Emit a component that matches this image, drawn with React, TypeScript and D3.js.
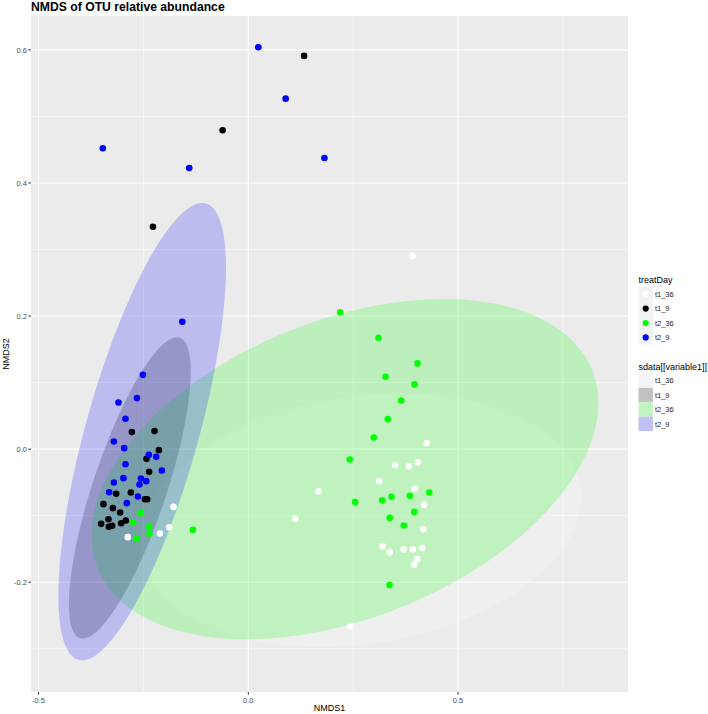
import React, { useEffect, useRef } from 'react';
import * as d3 from 'd3';

const groups = ['t1_36', 't1_9', 't2_36', 't2_9'];
const groupColors = ['#ffffff', '#000000', '#00ff00', '#0000ff'];

// NMDS1, NMDS2 per sample
const t1_36: [number, number][] = [
  [0.3914, 0.2902], [0.4255, 0.009], [0.3501, -0.0241], [0.3826, -0.0256], [0.4041, -0.02],
  [0.3119, -0.0481], [0.1671, -0.0632], [0.3969, -0.0591], [0.4193, -0.0838], [0.1122, -0.1048],
  [0.417, -0.1203], [0.3198, -0.1459], [0.3372, -0.1549], [0.3699, -0.1508], [0.3921, -0.1508],
  [0.4146, -0.1484], [0.4026, -0.165], [0.3955, -0.1734], [0.2442, -0.2657], [-0.1783, -0.0868],
  [-0.1885, -0.1173], [-0.2107, -0.1268], [-0.2871, -0.1323],
];
const t1_9: [number, number][] = [
  [0.1329, 0.591], [-0.0613, 0.4792], [-0.2274, 0.3343], [-0.2776, 0.0256], [-0.2236, 0.0271],
  [-0.2131, -0.0015], [-0.2427, -0.0146], [-0.2363, -0.0341], [-0.315, -0.0672], [-0.28, -0.0651],
  [-0.2465, -0.0752], [-0.2411, -0.0752], [-0.3453, -0.0827], [-0.3229, -0.0887], [-0.3055, -0.0952],
  [-0.3334, -0.1053], [-0.2919, -0.1072], [-0.3031, -0.1113], [-0.3508, -0.1123], [-0.3325, -0.1168],
  [-0.3246, -0.1153],
];
const t2_36: [number, number][] = [
  [0.2189, 0.2056], [0.3103, 0.1674], [0.4033, 0.1289], [0.327, 0.1087], [0.3962, 0.0973],
  [0.3644, 0.0732], [0.3325, 0.0451], [0.299, 0.0176], [0.2418, -0.0155], [0.4313, -0.0651],
  [0.2547, -0.0797], [0.3191, -0.0767], [0.3413, -0.0717], [0.385, -0.0702], [0.3955, -0.0943],
  [0.3372, -0.1033], [0.3706, -0.1147], [0.3365, -0.2041], [-0.132, -0.1214], [-0.2561, -0.0958],
  [-0.2745, -0.1098], [-0.2363, -0.1168], [-0.2356, -0.1268], [-0.2666, -0.1343],
];
const t2_9: [number, number][] = [
  [0.0239, 0.604], [0.089, 0.5268], [0.1814, 0.4376], [-0.3468, 0.4522], [-0.1408, 0.4226],
  [-0.1575, 0.1914], [-0.2513, 0.1117], [-0.2656, 0.0767], [-0.3095, 0.0702], [-0.2928, 0.0456],
  [-0.3205, 0.0116], [-0.2959, 0.0015], [-0.237, -0.0086], [-0.2196, -0.0116], [-0.2928, -0.0226],
  [-0.206, -0.032], [-0.2976, -0.0436], [-0.2561, -0.0441], [-0.3205, -0.0501], [-0.2434, -0.0481],
  [-0.2594, -0.0531], [-0.3317, -0.0647], [-0.2632, -0.0711], [-0.2895, -0.0812],
];
const samples = [t1_36, t1_9, t2_36, t2_9];

// 95% ellipses: centre and the two half-axis vectors, in NMDS units
const ellipseCentre = [[0.2673, -0.1068], [-0.2825, -0.0583], [0.2303, -0.0301], [-0.253, 0.0263]];
const ellipseAxisA = [[0.5241, 0.0505], [0.1189, 0.2256], [0.5895, 0.1486], [0.152, 0.3429]];
const ellipseAxisB = [[0.0446, -0.1842], [0.0833, -0.0174], [0.132, -0.208], [0.1295, -0.0228]];

const xTicks = [-0.5, 0, 0.5];
const xMinor = [-0.25, 0.25, 0.75];
const yTicks = [-0.2, 0, 0.2, 0.4, 0.6];
const yMinor = [-0.3, -0.1, 0.1, 0.3, 0.5];

const W = 708;
const H = 714;
const font = 'Liberation Sans, Arial, sans-serif';

const App = () => {
  const svgRef = useRef<SVGSVGElement>(null);

  useEffect(() => {
    const margin = { top: 16, right: 80, bottom: 22, left: 31 };
    const svg = d3.select(svgRef.current);
    svg.selectAll('*').remove();

    const x = d3.scaleLinear().domain([-0.518, 0.905]).range([margin.left, W - margin.right]);
    const y = d3.scaleLinear().domain([-0.365, 0.651]).range([H - margin.bottom, margin.top]);
    const fmt = (v: number) => v.toFixed(1);

    svg.append('rect').attr('width', W).attr('height', H).attr('fill', '#fff');

    const px0 = x.range()[0], px1 = x.range()[1];
    const py0 = y.range()[1], py1 = y.range()[0];

    svg.append('rect')
      .attr('x', px0).attr('y', py0)
      .attr('width', px1 - px0).attr('height', py1 - py0)
      .attr('fill', '#ebebeb');

    svg.append('clipPath').attr('id', 'panel')
      .append('rect')
      .attr('x', px0).attr('y', py0)
      .attr('width', px1 - px0).attr('height', py1 - py0);

    const grid = svg.append('g').attr('stroke', '#fff');
    grid.selectAll('.vminor').data(xMinor).enter().append('line')
      .attr('x1', d => x(d)).attr('x2', d => x(d)).attr('y1', py0).attr('y2', py1)
      .attr('stroke-width', 0.55);
    grid.selectAll('.hminor').data(yMinor).enter().append('line')
      .attr('y1', d => y(d)).attr('y2', d => y(d)).attr('x1', px0).attr('x2', px1)
      .attr('stroke-width', 0.55);
    grid.selectAll('.vmajor').data(xTicks).enter().append('line')
      .attr('x1', d => x(d)).attr('x2', d => x(d)).attr('y1', py0).attr('y2', py1)
      .attr('stroke-width', 1.1);
    grid.selectAll('.hmajor').data(yTicks).enter().append('line')
      .attr('y1', d => y(d)).attr('y2', d => y(d)).attr('x1', px0).attr('x2', px1)
      .attr('stroke-width', 1.1);

    const plot = svg.append('g').attr('clip-path', 'url(#panel)');

    const line = d3.line<[number, number]>()
      .x(d => x(d[0])).y(d => y(d[1]))
      .curve(d3.curveLinearClosed);

    groups.forEach((g, i) => {
      const [cx, cy] = ellipseCentre[i];
      const [ax, ay] = ellipseAxisA[i];
      const [bx, by] = ellipseAxisB[i];
      const pts = d3.range(0, 360, 2).map(deg => {
        const t = (deg * Math.PI) / 180;
        return [cx + ax * Math.cos(t) + bx * Math.sin(t), cy + ay * Math.cos(t) + by * Math.sin(t)] as [number, number];
      });
      plot.append('path')
        .attr('d', line(pts))
        .attr('fill', groupColors[i])
        .attr('fill-opacity', 0.2)
        .attr('stroke', 'none');
    });

    groups.forEach((g, i) => {
      plot.selectAll('.pt-' + g)
        .data(samples[i])
        .enter()
        .append('circle')
        .attr('cx', d => x(d[0]))
        .attr('cy', d => y(d[1]))
        .attr('r', 3.3)
        .attr('fill', groupColors[i]);
    });

    // axes
    const axes = svg.append('g').attr('font-family', font);
    axes.selectAll('.xt').data(xTicks).enter().append('line')
      .attr('x1', d => x(d)).attr('x2', d => x(d)).attr('y1', py1).attr('y2', py1 + 2.7)
      .attr('stroke', '#333').attr('stroke-width', 1);
    axes.selectAll('.xl').data(xTicks).enter().append('text')
      .attr('x', d => x(d)).attr('y', py1 + 10.5)
      .attr('text-anchor', 'middle').attr('font-size', 7.5).attr('fill', '#4d4d4d')
      .text(d => fmt(d));
    axes.selectAll('.yt').data(yTicks).enter().append('line')
      .attr('y1', d => y(d)).attr('y2', d => y(d)).attr('x1', px0 - 2.7).attr('x2', px0)
      .attr('stroke', '#333').attr('stroke-width', 1);
    axes.selectAll('.yl').data(yTicks).enter().append('text')
      .attr('x', px0 - 4).attr('y', d => y(d) + 2.7)
      .attr('text-anchor', 'end').attr('font-size', 7.5).attr('fill', '#4d4d4d')
      .text(d => fmt(d));

    axes.append('text')
      .attr('x', (px0 + px1) / 2).attr('y', H - 3)
      .attr('text-anchor', 'middle').attr('font-size', 9).attr('fill', '#000')
      .text('NMDS1');
    axes.append('text')
      .attr('transform', `translate(9,${(py0 + py1) / 2}) rotate(-90)`)
      .attr('text-anchor', 'middle').attr('font-size', 9).attr('fill', '#000')
      .text('NMDS2');

    svg.append('text')
      .attr('x', px0).attr('y', 11)
      .attr('font-family', font).attr('font-weight', 'bold').attr('font-size', 12.2)
      .attr('fill', '#000')
      .text('NMDS of OTU relative abundance');

    // legends
    const key = 14.4;
    const lx = 638.5;
    const leg = svg.append('g').attr('font-family', font);

    leg.append('text').attr('x', lx).attr('y', 283).attr('font-size', 9).text('treatDay');
    groups.forEach((g, i) => {
      const ky = 287 + i * key;
      leg.append('rect').attr('x', lx).attr('y', ky).attr('width', key).attr('height', key).attr('fill', '#f2f2f2');
      leg.append('circle').attr('cx', lx + key / 2).attr('cy', ky + key / 2).attr('r', 3.1).attr('fill', groupColors[i]);
      leg.append('text').attr('x', lx + key + 2).attr('y', ky + key / 2 + 2.7).attr('font-size', 7.5).attr('fill', '#1a1a1a').text(g);
    });

    leg.append('text').attr('x', lx).attr('y', 370).attr('font-size', 9).text('sdata[[variable1]]');
    groups.forEach((g, i) => {
      const ky = 373.5 + i * key;
      leg.append('rect').attr('x', lx).attr('y', ky).attr('width', key).attr('height', key).attr('fill', '#f2f2f2');
      leg.append('rect').attr('x', lx).attr('y', ky).attr('width', key).attr('height', key)
        .attr('fill', groupColors[i]).attr('fill-opacity', 0.2);
      leg.append('text').attr('x', lx + key + 2).attr('y', ky + key / 2 + 2.7).attr('font-size', 7.5).attr('fill', '#1a1a1a').text(g);
    });
  }, []);

  return (
    <svg
      ref={svgRef}
      width={W}
      height={H}
      style={{ position: 'absolute', left: 0, top: 0, display: 'block' }}
    />
  );
};

export default App;
